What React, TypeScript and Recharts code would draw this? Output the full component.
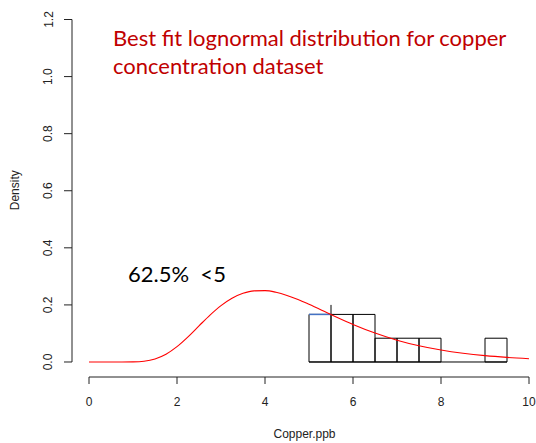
import {
  ComposedChart,
  Line,
  XAxis,
  YAxis,
  ReferenceArea,
  ReferenceLine,
} from "recharts";

// fitted lognormal density
const curveX = [
  0, 0.5, 0.75, 1, 1.25, 1.5, 1.75, 2, 2.25, 2.5, 2.75, 3, 3.25, 3.5, 3.75, 4,
  4.25, 4.5, 4.75, 5, 5.5, 6, 6.5, 7, 7.5, 8, 8.5, 9, 9.5, 10,
];
const curveDensity = [
  0, 0, 0, 0.0004, 0.0028, 0.0107, 0.0272, 0.0536, 0.088, 0.1265, 0.1644,
  0.1976, 0.2234, 0.2407, 0.2493, 0.25, 0.2442, 0.2333, 0.2189, 0.2022, 0.1663,
  0.1316, 0.1014, 0.0765, 0.0569, 0.0419, 0.0306, 0.0222, 0.0161, 0.0116,
];

// histogram bins (observations >= 5)
const binStart = [5, 5.5, 6, 6.5, 7, 7.5, 8, 8.5, 9];
const binEnd = [5.5, 6, 6.5, 7, 7.5, 8, 8.5, 9, 9.5];
const binDensity = [
  0.1667, 0.1667, 0.1667, 0.0833, 0.0833, 0.0833, 0, 0, 0.0833,
];

const xTicks = [0, 2, 4, 6, 8, 10];
const yTicks = [0, 0.2, 0.4, 0.6, 0.8, 1.0, 1.2];

// R draws its axes a little off the plot region
const xAxisPos = -0.0526;
const yAxisPos = -0.3864;

const data = curveX.map((x, i) => ({ x, density: curveDensity[i] }));

const font = "'Liberation Sans', Arial, Helvetica, sans-serif";

function YTick(props: any) {
  const { x, y, payload } = props;
  const bx = x - 9.5;
  return (
    <text
      x={bx}
      y={y}
      transform={`rotate(-90, ${bx}, ${y})`}
      textAnchor="middle"
      fontSize={12}
      fontFamily={font}
      fill="#222"
    >
      {payload.value.toFixed(1)}
    </text>
  );
}

export default function App() {
  return (
    <div style={{ position: "absolute", left: 0, top: 0, width: 536, height: 443 }}>
      <ComposedChart
        width={536}
        height={443}
        data={data}
        margin={{ top: 19.5, right: 7, bottom: 0, left: 0 }}
      >
        <XAxis
          dataKey="x"
          type="number"
          domain={[yAxisPos, 10]}
          ticks={xTicks}
          axisLine={false}
          tickLine={{ stroke: "#222" }}
          tickSize={7}
          tickMargin={13}
          height={66}
          tick={{ fontSize: 12, fontFamily: font, fill: "#222" }}
          label={{
            value: "Copper.ppb",
            position: "insideBottom",
            offset: 5,
            dx: 4,
            style: { fontSize: 12, fontFamily: font, fill: "#222" },
          }}
        />
        <YAxis
          type="number"
          domain={[xAxisPos, 1.2]}
          ticks={yTicks}
          axisLine={false}
          tickLine={{ stroke: "#222" }}
          tickSize={8}
          width={72}
          tick={<YTick />}
          label={{
            value: "Density",
            angle: -90,
            position: "insideLeft",
            offset: 15,
            dy: -8,
            style: { fontSize: 12, fontFamily: font, fill: "#222", textAnchor: "middle" },
          }}
        />
        <ReferenceLine
          segment={[
            { x: 0, y: xAxisPos },
            { x: 10, y: xAxisPos },
          ]}
          stroke="#222"
        />
        <ReferenceLine
          segment={[
            { x: yAxisPos, y: 0 },
            { x: yAxisPos, y: 1.2 },
          ]}
          stroke="#222"
        />
        {binStart.map((s, i) => (
          <ReferenceArea
            key={i}
            x1={s}
            x2={binEnd[i]}
            y1={0}
            y2={binDensity[i]}
            fill="none"
            stroke="#000"
            strokeWidth={1}
            fillOpacity={0}
          />
        ))}
        <ReferenceLine
          segment={[
            { x: binStart[0], y: 0 },
            { x: binEnd[binEnd.length - 1], y: 0 },
          ]}
          stroke="#000"
        />
        <ReferenceLine
          segment={[
            { x: binEnd[0], y: binDensity[0] },
            { x: binEnd[0], y: 0.2 },
          ]}
          stroke="#000"
        />
        <ReferenceLine
          segment={[
            { x: binStart[0], y: binDensity[0] },
            { x: binEnd[0], y: binDensity[0] },
          ]}
          stroke="#4472C4"
          strokeWidth={1.5}
        />
        <Line
          dataKey="density"
          type="monotone"
          stroke="#ff0000"
          strokeWidth={1.1}
          dot={false}
          isAnimationActive={false}
        />
      </ComposedChart>
      <div
        style={{
          position: "absolute",
          left: 113,
          top: 24,
          fontFamily: "Lato, 'Open Sans', sans-serif",
          fontSize: 22,
          lineHeight: "28px",
          color: "#C00000",
          whiteSpace: "nowrap",
        }}
      >
        Best fit lognormal distribution for copper
        <br />
        concentration dataset
      </div>
      <div
        style={{
          position: "absolute",
          left: 128,
          top: 260,
          fontFamily: "Lato, 'Open Sans', sans-serif",
          fontSize: 22,
          lineHeight: "28px",
          color: "#000",
          whiteSpace: "pre",
        }}
      >
        {"62.5%  <5"}
      </div>
    </div>
  );
}
